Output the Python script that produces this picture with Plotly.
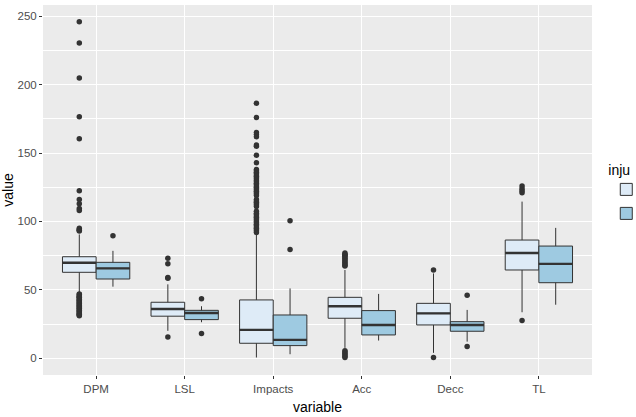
import plotly.graph_objects as go

categories = ["DPM", "LSL", "Impacts", "Acc", "Decc", "TL"]
legend_title = "inju"

# Light group (first level)
light_lower = [47.5, 20.0, 0.5, 7.5, 3.9, 33.6]
light_q1 = [62.8, 30.7, 10.9, 29.2, 24.3, 64.5]
light_median = [69.8, 36.0, 20.7, 38.0, 32.8, 76.9]
light_q3 = [74.2, 40.9, 42.6, 44.5, 40.1, 86.4]
light_upper = [90.5, 54.0, 91.0, 64.5, 62.0, 114.5]

# Dark group (second level)
dark_lower = [52.3, 26.3, 2.9, 12.9, 12.1, 39.1]
dark_q1 = [57.9, 28.2, 9.2, 17.0, 19.7, 55.2]
dark_median = [65.7, 33.0, 13.4, 24.3, 24.3, 69.0]
dark_q3 = [70.1, 35.0, 31.6, 34.8, 26.7, 82.0]
dark_upper = [78.5, 38.0, 51.0, 47.0, 35.3, 95.3]

light_outliers = {
    "DPM": [246, 230.5, 205, 176.5, 160.5, 122.5, 116, 113, 109.5, 108, 95, 94, 93.5, 93,
            47, 46.5, 45.5, 45, 44.5, 44, 43, 42.5, 42, 41, 40.5, 40, 39, 38.5, 38, 37, 36.5,
            36, 35, 34.5, 34, 33, 32.5, 32, 31.5, 31],
    "LSL": [73, 69, 59, 58.5, 15.5],
    "Impacts": [186.5, 176, 165, 163.5, 162, 156, 155, 148.5, 143, 138, 137, 136, 135, 134,
                133, 132, 131, 130, 129, 128, 127, 126, 125, 124, 123, 122, 121, 120, 119,
                116, 115, 114, 113, 112, 111, 107.5, 106, 105, 104, 103, 102, 101, 100,
                99, 98, 97, 96, 95, 94, 93, 92],
    "Acc": [77, 76, 75.5, 75, 74, 73, 72, 71, 70, 69, 68, 67.5, 5.5, 4.5, 3.5, 2.5, 1.5, 0.5],
    "Decc": [64.5, 0.5],
    "TL": [126, 124, 122.5, 121, 27.5],
}
dark_outliers = {
    "DPM": [89.5],
    "LSL": [43.5, 18],
    "Impacts": [100.5, 79.5],
    "Acc": [],
    "Decc": [46, 8.5],
    "TL": [],
}

light_fill = "#DEEBF7"
dark_fill = "#9ECAE1"
line_col = "#333333"
OFFSET = 0.19
BOXW = 0.38

fig = go.Figure()

series = [
    ("g0", -OFFSET, light_fill, light_lower, light_q1, light_median, light_q3, light_upper, light_outliers),
    ("g1", OFFSET, dark_fill, dark_lower, dark_q1, dark_median, dark_q3, dark_upper, dark_outliers),
]

for grp, off, fill, lo, q1, med, q3, up, outl in series:
    pos = [i + off for i in range(len(categories))]
    fig.add_trace(go.Box(
        name="", legendgroup=grp, x=pos, q1=q1, median=med, q3=q3, lowerfence=lo, upperfence=up,
        width=BOXW, fillcolor=fill, line=dict(color=line_col, width=1),
        whiskerwidth=0, boxpoints=False, hoverinfo="skip",
    ))
    # thicker median segments
    mx, my = [], []
    for p, m in zip(pos, med):
        mx += [p - BOXW / 2, p + BOXW / 2, None]
        my += [m, m, None]
    fig.add_trace(go.Scatter(x=mx, y=my, mode="lines", line=dict(color=line_col, width=2.4),
                             showlegend=False, hoverinfo="skip"))
    ox, oy = [], []
    for p, c in zip(pos, categories):
        for v in outl[c]:
            ox.append(p)
            oy.append(v)
    fig.add_trace(go.Scatter(x=ox, y=oy, mode="markers",
                             marker=dict(color=line_col, size=5.5),
                             showlegend=False, hoverinfo="skip"))

fig.update_layout(
    width=636, height=417,
    margin=dict(l=43, r=44, t=5, b=42, autoexpand=False),
    paper_bgcolor="white", plot_bgcolor="#EBEBEB",
    boxmode="overlay",
    font=dict(family="Liberation Sans, Arial, sans-serif", color="#4D4D4D"),
    legend=dict(title=dict(text=legend_title, font=dict(size=14, color="black")),
                x=1.026, y=0.59, xanchor="left", yanchor="top",
                bgcolor="rgba(0,0,0,0)", font=dict(size=11.5, color="black"),
                traceorder="grouped", tracegroupgap=5),
    showlegend=True,
)
fig.update_xaxes(
    range=[-0.6, 5.6], tickvals=list(range(len(categories))), ticktext=categories,
    showgrid=True, gridcolor="white", gridwidth=1.1, zeroline=False,
    ticks="outside", ticklen=3, tickcolor=line_col, tickwidth=1,
    tickfont=dict(size=11.5, color="#4D4D4D"),
    title=dict(text="variable", font=dict(size=14, color="black"), standoff=8),
)
fig.update_yaxes(
    range=[-12.3, 258.3], tickvals=[0, 50, 100, 150, 200, 250],
    showgrid=True, gridcolor="white", gridwidth=1.1, zeroline=False,
    minor=dict(tickvals=[25, 75, 125, 175, 225], showgrid=True, gridcolor="white", gridwidth=0.5),
    ticks="outside", ticklen=3, tickcolor=line_col, tickwidth=1,
    tickfont=dict(size=11.5, color="#4D4D4D"),
    title=dict(text="value", font=dict(size=14, color="black"), standoff=6),
)

fig.write_html("out.html")
